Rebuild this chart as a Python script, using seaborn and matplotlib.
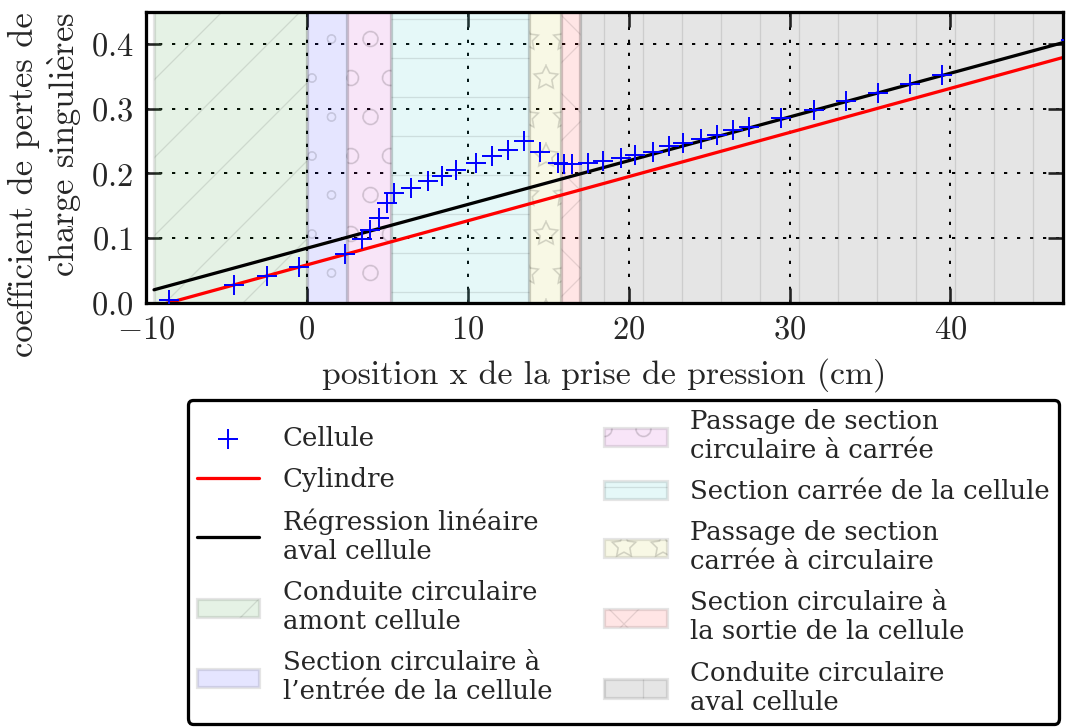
import numpy as np
import matplotlib
matplotlib.use("Agg")
import matplotlib.pyplot as plt
import matplotlib.hatch
import seaborn as sns

# measured pressure-loss coefficient along the cell
pos_x = [-8.6, -4.5, -2.5, -0.5, 2.4, 3.4, 3.9, 4.5, 5.0, 5.4, 6.5, 7.5, 8.4, 9.3,
         10.5, 11.5, 12.5, 13.5, 14.5, 15.6, 16.0, 16.5, 17.5, 18.4, 19.5, 20.4,
         21.5, 22.5, 23.4, 24.5, 25.5, 26.5, 27.5, 29.5, 31.5, 33.5, 35.5, 37.5,
         39.5, 47.5]
coef = [0.004, 0.027, 0.041, 0.055, 0.075, 0.099, 0.113, 0.131, 0.155, 0.170,
        0.178, 0.188, 0.196, 0.205, 0.216, 0.227, 0.237, 0.250, 0.234, 0.217,
        0.215, 0.214, 0.216, 0.219, 0.224, 0.229, 0.234, 0.242, 0.247, 0.254,
        0.260, 0.267, 0.272, 0.286, 0.299, 0.312, 0.325, 0.338, 0.352, 0.406]

# reference cylinder and downstream regression (end points)
cyl_x = [-9.5, 47.5]
cyl_y = [-0.0064, 0.383]
reg_x = [-9.5, 47.5]
reg_y = [0.020, 0.406]

# geometry zones of the test section
zone_lo = [-9.5, 0.0, 2.5, 5.2, 13.8, 15.8, 17.0]
zone_hi = [0.0, 2.5, 5.2, 13.8, 15.8, 17.0, 50.0]
zone_col = ["g", "b", "m", "c", "y", "r", "k"]
zone_hatch = ["/", "o", "O", "-", "*", "x", "|"]
zone_names = ["Conduite circulaire\namont cellule",
              "Section circulaire à\nl’entrée de la cellule",
              "Passage de section\ncirculaire à carrée",
              "Section carrée de la cellule",
              "Passage de section\ncarrée à circulaire",
              "Section circulaire à\nla sortie de la cellule",
              "Conduite circulaire\naval cellule"]

# old-style hatches: outlined stars, smaller circles
matplotlib.hatch.Stars.filled = False
matplotlib.hatch.SmallCircles.size = 0.11
matplotlib.hatch.LargeCircles.size = 0.2

sns.set_style("ticks")
plt.rcParams["font.family"] = ["cmr10", "DejaVu Serif"]
plt.rcParams["mathtext.fontset"] = "cm"
plt.rcParams["axes.formatter.use_mathtext"] = True
plt.rcParams["axes.unicode_minus"] = True
plt.rcParams["lines.scale_dashes"] = False
plt.rcParams["hatch.linewidth"] = 0.4
plt.rcParams["axes.linewidth"] = 1.0

DPI = 234
fig = plt.figure(figsize=(1067 / DPI, 728 / DPI), dpi=DPI)
ax = fig.add_axes([146 / 1067, 1 - 302.7 / 728, 917 / 1067, 290.7 / 728])

sns.scatterplot(x=pos_x, y=coef, marker="+", color="b", s=38,
                linewidth=0.6, ax=ax, legend=False, label="Cellule", zorder=3)
sns.lineplot(x=cyl_x, y=cyl_y, color="r", linewidth=1.0, ax=ax, legend=False,
             label="Cylindre", zorder=2.5)
sns.lineplot(x=reg_x, y=reg_y, color="k", linewidth=1.0, ax=ax, legend=False,
             label="Régression linéaire\naval cellule", zorder=2.5)

for lo, hi, c, h, name in zip(zone_lo, zone_hi, zone_col, zone_hatch, zone_names):
    ax.axvspan(lo, hi, facecolor=c, edgecolor="k", alpha=0.1, hatch=h,
               linewidth=1.0, label=name, zorder=1)

ax.set_xlim(-10, 47)
ax.set_ylim(0, 0.45)
ax.set_xticks([-10, 0, 10, 20, 30, 40])
ax.set_yticks([0.0, 0.1, 0.2, 0.3, 0.4])
ax.grid(True, color="k", linestyle=(0, (1, 3)), linewidth=0.6)
ax.tick_params(direction="in", top=True, right=True, length=4.5, width=0.8,
               labelsize=10, pad=4)
for s in ax.spines.values():
    s.set_linewidth(1.0)
    s.set_color("k")

ax.set_xlabel("position x de la prise de pression (cm)", fontsize=10.4, labelpad=4)
ax.set_ylabel("coefficient de pertes de\ncharge singuli$\\grave{\\mathrm{e}}$res",
              fontsize=10.6, loc="top", multialignment="right", labelpad=2)

handles, labels = ax.get_legend_handles_labels()
leg = fig.legend(handles, labels, ncol=2, loc="upper center",
                 bbox_to_anchor=(0.5844, 1 - 400 / 728), borderaxespad=0,
                 fancybox=True, framealpha=1, edgecolor="k",
                 prop={"family": "DejaVu Serif", "size": 8},
                 handlelength=2.4, labelspacing=0.62, columnspacing=2.0,
                 borderpad=0.35, handletextpad=0.9)
leg.get_frame().set_linewidth(1.0)

fig.savefig("out.png", dpi=DPI)
